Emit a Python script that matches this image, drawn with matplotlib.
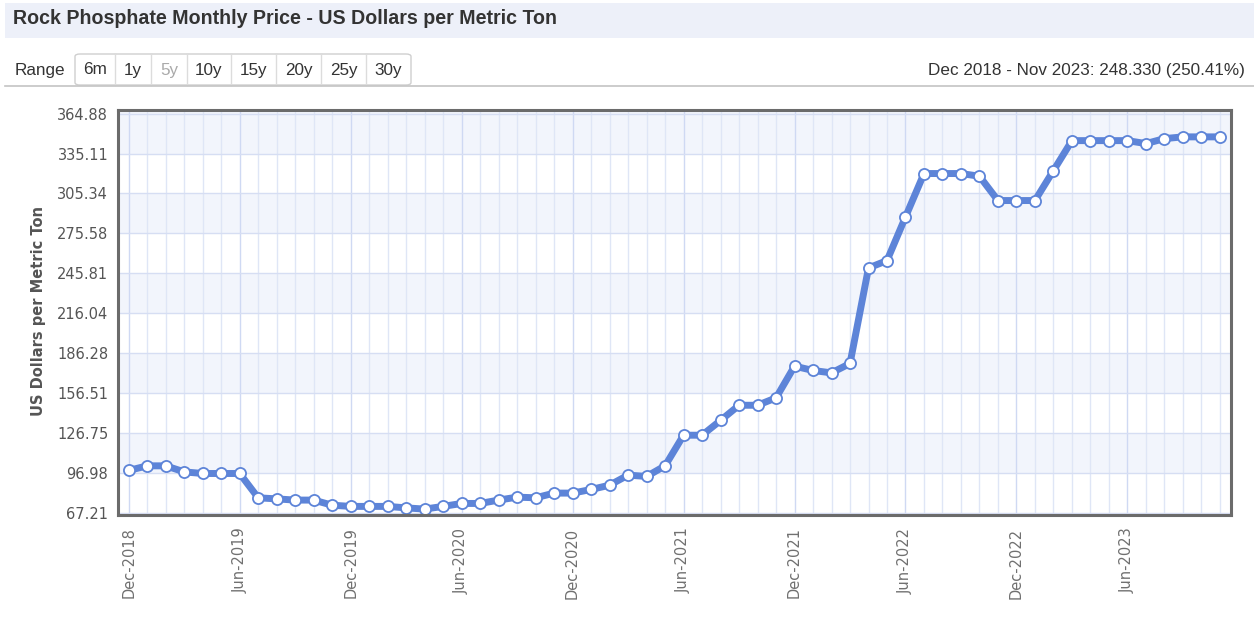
import numpy as np
import matplotlib
matplotlib.use("Agg")
import matplotlib.pyplot as plt
from matplotlib.patches import Rectangle, FancyBboxPatch
from matplotlib.lines import Line2D

# ---- data -------------------------------------------------------------
months = ["Dec-2018", "Jan-2019", "Feb-2019", "Mar-2019", "Apr-2019", "May-2019",
          "Jun-2019", "Jul-2019", "Aug-2019", "Sep-2019", "Oct-2019", "Nov-2019",
          "Dec-2019", "Jan-2020", "Feb-2020", "Mar-2020", "Apr-2020", "May-2020",
          "Jun-2020", "Jul-2020", "Aug-2020", "Sep-2020", "Oct-2020", "Nov-2020",
          "Dec-2020", "Jan-2021", "Feb-2021", "Mar-2021", "Apr-2021", "May-2021",
          "Jun-2021", "Jul-2021", "Aug-2021", "Sep-2021", "Oct-2021", "Nov-2021",
          "Dec-2021", "Jan-2022", "Feb-2022", "Mar-2022", "Apr-2022", "May-2022",
          "Jun-2022", "Jul-2022", "Aug-2022", "Sep-2022", "Oct-2022", "Nov-2022",
          "Dec-2022", "Jan-2023", "Feb-2023", "Mar-2023", "Apr-2023", "May-2023",
          "Jun-2023", "Jul-2023", "Aug-2023", "Sep-2023", "Oct-2023", "Nov-2023"]

prices = [99.17, 102.6, 102.6, 98.1, 96.9, 96.9, 96.9, 78.8, 78.0, 77.1,
          77.1, 73.3, 72.4, 72.4, 72.4, 71.3, 70.4, 72.4, 74.6, 74.6,
          77.1, 79.3, 78.8, 82.3, 82.3, 85.0, 88.2, 95.7, 94.7, 102.6,
          125.4, 125.4, 136.4, 147.7, 147.7, 153.2, 176.8, 173.6, 171.8, 178.8,
          249.9, 255.4, 287.9, 320.2, 320.2, 320.2, 318.2, 300.1, 300.1, 300.1,
          322.4, 344.7, 344.7, 344.7, 344.7, 342.5, 346.2, 347.5, 347.5, 347.5]

y_ticks = [67.21, 96.98, 126.75, 156.51, 186.28, 216.04, 245.81, 275.58, 305.34, 335.11, 364.88]
x_label_step = 6

title = "Rock Phosphate Monthly Price - US Dollars per Metric Ton"
range_buttons = ["6m", "1y", "5y", "10y", "15y", "20y", "25y", "30y"]
active_button = "5y"
change_text = "Dec 2018 - Nov 2023: 248.330 (250.41%)"
y_title = "US Dollars per Metric Ton"

# ---- figure ------------------------------------------------------------
W, H = 1254, 620
fig = plt.figure(figsize=(W / 100, H / 100), dpi=100)
fig.patch.set_facecolor("white")


def fx(px):
    return px / W


def fy(py):
    return 1 - py / H


# header bar with title
fig.patches.append(Rectangle((fx(5), fy(38)), fx(1254) - fx(5), fy(3) - fy(38),
                             transform=fig.transFigure, facecolor="#edf0f9",
                             edgecolor="none", zorder=0))
fig.text(fx(13), fy(18), title, fontsize=14.1, fontweight="bold",
         family="Liberation Sans", color="#333333", va="center", ha="left")

# range selector row
fig.text(fx(15), fy(70), "Range", fontsize=12.3, family="Liberation Sans",
         color="#333333", va="center", ha="left")
edges = [75, 115, 151, 187, 231, 276, 321, 366, 411]
box = FancyBboxPatch((fx(edges[0]), fy(85)), fx(edges[-1]) - fx(edges[0]), fy(54) - fy(85),
                     boxstyle="round,pad=0,rounding_size=0.004",
                     transform=fig.transFigure, facecolor="white",
                     edgecolor="#cfcfcf", linewidth=1.0, zorder=1)
fig.patches.append(box)
for e in edges[1:-1]:
    fig.lines.append(Line2D([fx(e), fx(e)], [fy(85), fy(54)], transform=fig.transFigure,
                            color="#dcdcdc", linewidth=1.0, zorder=2))
for lab, a, b in zip(range_buttons, edges[:-1], edges[1:]):
    fig.text(fx((a + b) / 2), fy(70), lab, fontsize=12.3, family="Liberation Sans",
             color="#aaaaaa" if lab == active_button else "#333333",
             va="center", ha="center", zorder=3)

fig.text(fx(1245), fy(70), change_text, fontsize=12.3, family="Liberation Sans",
         color="#333333", va="center", ha="right")
fig.lines.append(Line2D([fx(5), fx(1254)], [fy(86), fy(86)], transform=fig.transFigure,
                        color="#c4c4c4", linewidth=1.2))

# ---- chart ---------------------------------------------------------------
left, right, top, bottom = 118, 1231, 110, 515
ax = fig.add_axes([fx(left), fy(bottom), fx(right) - fx(left), fy(top) - fy(bottom)])
ax.set_facecolor("white")

x = np.arange(len(prices))
ax.set_xlim(-0.58, len(prices) - 1 + 0.6)
ax.set_ylim(66.0, 367.5)

# alternating horizontal bands
for i in range(len(y_ticks) - 1):
    if (len(y_ticks) - 2 - i) % 2 == 0:
        ax.axhspan(y_ticks[i], y_ticks[i + 1], facecolor="#f2f5fc", edgecolor="none", zorder=0)
ax.axhspan(y_ticks[-1], 367.5, facecolor="#f2f5fc", edgecolor="none", zorder=0)

# grid lines
for xi in x:
    strong = xi % x_label_step == 0
    ax.axvline(xi, color="#cfd9f3" if strong else "#dfe6f6", linewidth=1.0, zorder=1)
for yt in y_ticks:
    ax.axhline(yt, color="#d6def3", linewidth=1.0, zorder=1)

line_color = "#5d84d8"
ax.plot(x, prices, color=line_color, linewidth=5.0, solid_joinstyle="round",
        solid_capstyle="round", zorder=3)
ax.plot(x, prices, linestyle="none", marker="o", markersize=8.0,
        markerfacecolor="white", markeredgecolor=line_color, markeredgewidth=1.3, zorder=4)

ax.set_yticks(y_ticks)
ax.set_yticklabels([f"{v:.2f}" for v in y_ticks])
tick_pos = x[::x_label_step]
ax.set_xticks(tick_pos)
ax.set_xticklabels([months[i] for i in tick_pos], rotation=90, va="top", ha="center")
ax.tick_params(axis="both", length=0, colors="#555555", labelsize=10.5)
ax.tick_params(axis="y", pad=7)
ax.tick_params(axis="x", pad=9, colors="#707070")
for lab in ax.get_yticklabels() + ax.get_xticklabels():
    lab.set_family("DejaVu Sans")

for sp in ax.spines.values():
    sp.set_color("#6b6b6b")
    sp.set_linewidth(2.2)
    sp.set_zorder(5)

fig.text(fx(39), fy(311), y_title, rotation=90, fontsize=10.5, fontweight="bold",
         family="DejaVu Sans", color="#555555", va="center", ha="center")

fig.savefig("out.png", dpi=100, facecolor="white")
